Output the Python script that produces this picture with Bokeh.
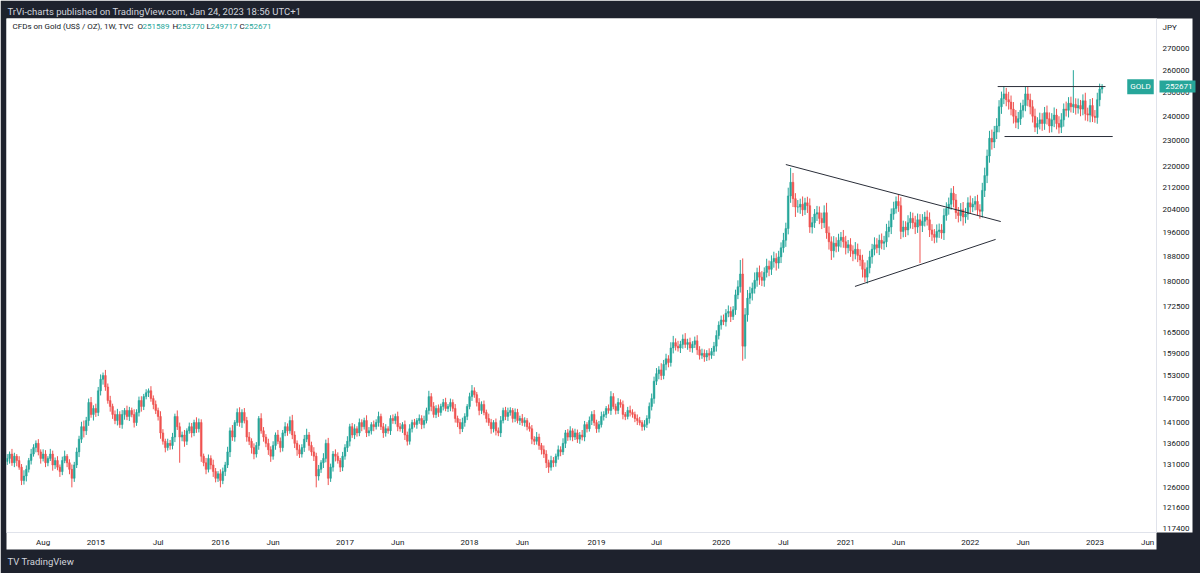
import numpy as np
import pandas as pd
from bokeh.plotting import figure
from bokeh.models import (Range1d, FixedTicker, NumeralTickFormatter, Label, ColumnDataSource,
                          Title, LogAxis)
from bokeh.embed import file_html
from bokeh.resources import INLINE

# ---------------- data (weekly, thousands of JPY) ----------------
start_date = "2014-04-21"
first_open_k = 131.8
close_k = [
    132.5, 133.5, 131.5, 133.0, 132.0, 130.5, 127.5, 128.5, 130.0, 132.0,
    133.5, 135.0, 136.0, 134.0, 132.5, 133.5, 131.5, 132.5, 133.5, 131.0,
    132.0, 130.5, 129.5, 132.0, 133.0, 131.5, 130.0, 128.0, 131.0, 134.0,
    137.0, 140.0, 139.0, 141.5, 146.0, 143.0, 144.5, 143.5, 149.0, 152.0,
    153.0, 150.0, 146.5, 145.0, 143.0, 141.5, 143.0, 140.5, 143.0, 144.0,
    142.5, 144.0, 143.0, 141.0, 143.5, 146.5, 145.0, 147.5, 148.5, 149.0,
    147.0, 145.5, 144.0, 142.5, 138.5, 136.5, 135.0, 136.0, 135.5, 137.5,
    142.5, 140.0, 137.5, 138.0, 136.5, 139.0, 140.0, 138.5, 141.0, 139.5,
    141.0, 133.0, 131.5, 130.0, 132.5, 131.0, 129.5, 128.0, 129.0, 127.5,
    129.5, 131.0, 134.0, 139.0, 137.5, 141.0, 143.5, 141.0, 143.5, 141.5,
    137.5, 136.5, 135.0, 133.5, 135.5, 142.0, 139.0, 137.5, 136.0, 134.5,
    133.0, 135.5, 138.0, 136.5, 135.0, 138.5, 140.0, 139.0, 141.5, 138.0,
    136.0, 134.5, 133.5, 135.0, 137.0, 138.0, 135.5, 134.0, 133.0, 128.5,
    130.0, 131.5, 132.5, 136.0, 128.0, 130.5, 133.5, 133.0, 132.0, 130.5,
    133.0, 135.0, 136.5, 140.0, 138.0, 139.5, 138.5, 141.0, 140.0, 141.5,
    138.5, 139.0, 140.5, 140.0, 141.0, 142.5, 140.0, 138.5, 139.5, 139.0,
    142.0, 141.5, 142.5, 140.0, 139.5, 140.5, 138.0, 136.5, 139.5, 141.0,
    140.5, 141.5, 142.0, 140.5, 141.5, 144.0, 147.5, 145.0, 143.0, 144.5,
    143.5, 145.0, 146.0, 144.5, 145.0, 146.0, 144.5, 142.0, 141.0, 139.5,
    141.0, 142.5, 145.0, 147.5, 149.0, 148.0, 146.0, 144.0, 145.5, 143.5,
    142.0, 141.0, 139.5, 141.0, 139.0, 138.5, 141.5, 144.0, 142.5, 143.5,
    144.0, 142.0, 143.5, 141.5, 142.0, 141.0, 141.5, 140.0, 139.5, 137.0,
    136.5, 137.5, 135.5, 134.5, 133.5, 131.5, 130.5, 132.0, 131.5, 133.0,
    134.5, 134.0, 136.0, 138.5, 137.5, 139.0, 137.5, 138.5, 137.0, 138.0,
    137.5, 140.5, 139.5, 141.5, 143.0, 141.0, 139.5, 140.5, 142.5, 143.0,
    144.5, 144.0, 147.5, 145.0, 144.0, 146.0, 145.5, 143.0, 142.5, 144.0,
    143.5, 143.0, 142.0, 141.5, 141.0, 140.0, 140.5, 142.0, 145.0, 147.0,
    151.5, 153.5, 154.5, 153.0, 156.0, 157.5, 156.5, 160.5, 162.0, 161.0,
    160.5, 161.5, 163.0, 161.5, 162.0, 160.5, 161.5, 162.5, 160.0, 158.5,
    159.0, 158.0, 159.0, 158.5, 159.5, 161.0, 164.0, 167.0, 168.5, 168.0,
    170.5, 171.0, 169.5, 171.5, 176.0, 178.5, 182.5, 161.0, 170.0, 175.0,
    176.5, 178.0, 180.5, 183.0, 181.5, 180.5, 183.0, 185.0, 184.0, 186.5,
    187.5, 186.0, 188.0, 191.0, 193.5, 197.5, 209.0, 214.0, 208.0, 205.0,
    205.0, 206.0, 204.0, 206.5, 205.5, 198.0, 199.5, 202.5, 203.0, 201.0,
    199.5, 203.0, 196.0, 193.0, 190.0, 192.5, 191.5, 193.5, 194.5, 193.0,
    191.0, 192.0, 190.0, 189.0, 190.5, 188.5, 187.0, 184.0, 181.5, 184.5,
    188.0, 190.5, 192.0, 191.0, 193.5, 192.5, 193.0, 196.5, 198.0, 202.5,
    204.5, 207.0, 205.5, 196.5, 198.0, 197.0, 199.5, 201.0, 199.5, 198.0,
    200.5, 198.5, 200.0, 201.5, 200.5, 197.0, 195.5, 194.5, 196.5, 197.0,
    196.0, 202.0, 204.5, 206.0, 210.0, 207.5, 203.0, 202.0, 204.0, 201.5,
    202.5, 206.5, 205.0, 206.0, 207.0, 204.0, 203.5, 211.0, 216.5, 224.0,
    231.0, 229.5, 233.5, 236.0, 244.0, 247.5, 249.5, 247.0, 246.0, 243.0,
    240.0, 237.5, 239.0, 242.5, 244.5, 249.5, 247.0, 244.0, 240.0, 235.5,
    237.0, 238.5, 237.0, 241.5, 239.0, 236.0, 238.5, 240.5, 237.0, 235.5,
    238.5, 243.0, 242.5, 245.5, 244.0, 245.0, 243.5, 244.5, 243.0, 246.5,
    241.0, 240.5, 244.5, 240.0, 239.5, 247.0, 251.589, 252.671,
]
wick_up_k = [
    1.0, 0.6, 1.2, 0.8, 0.5, 1.0, 0.7, 1.3, 0.9, 0.6,
    1.2, 0.8, 0.7, 1.0, 0.6, 1.1, 0.9, 0.5, 1.2, 0.8,
    0.7, 1.0, 0.6, 0.9, 1.3, 0.5, 0.8, 1.1, 0.7, 1.0,
    0.8, 1.2, 1.5, 0.9, 1.0, 1.4, 0.8, 1.2, 1.0, 1.3,
    0.8, 1.5, 0.9, 1.2, 0.7, 1.0, 1.4, 0.8, 1.1, 0.6,
    1.2, 0.9, 0.7, 1.3, 0.8, 1.0, 1.1, 0.7, 0.9, 0.6,
    1.2, 0.8, 1.0, 0.7, 1.3, 0.9, 0.6, 1.1, 0.8, 1.0,
    0.7, 1.5, 1.0, 0.8, 1.2, 0.6, 1.0, 0.9, 0.7, 1.3,
    1.0, 0.8, 0.6, 1.1, 0.9, 0.7, 1.2, 0.8, 0.6, 1.0,
    0.9, 0.7, 1.2, 0.8, 1.4, 0.6, 1.0, 1.3, 0.8, 1.1,
    0.9, 1.2, 0.7, 1.0, 0.8, 0.6, 1.3, 0.9, 0.7, 1.1,
    0.8, 1.0, 0.6, 1.2, 0.9, 0.7, 1.1, 0.8, 1.0, 1.4,
    0.9, 0.7, 1.2, 0.8, 1.0, 1.5, 0.7, 0.9, 1.1, 0.8,
    1.0, 0.6, 1.2, 0.9, 1.3, 0.8, 0.7, 1.1, 0.9, 0.6,
    1.0, 0.8, 1.2, 0.7, 0.9, 1.1, 0.6, 1.0, 0.8, 0.7,
    1.3, 0.9, 0.6, 1.0, 0.8, 1.2, 0.7, 0.9, 1.1, 0.6,
    0.8, 1.0, 0.7, 1.2, 0.9, 0.6, 1.0, 0.8, 1.1, 0.7,
    0.9, 0.6, 1.0, 0.8, 1.2, 0.7, 1.5, 0.9, 1.1, 0.8,
    1.0, 0.7, 0.9, 1.2, 0.6, 1.0, 0.8, 1.1, 0.7, 0.9,
    1.2, 0.8, 0.6, 1.0, 1.5, 0.9, 0.7, 1.1, 0.8, 1.0,
    0.7, 1.2, 0.9, 0.6, 1.0, 0.8, 1.1, 0.7, 0.9, 1.2,
    0.8, 0.6, 1.0, 0.9, 0.7, 1.1, 0.8, 0.6, 1.0, 0.9,
    0.7, 1.2, 0.8, 0.6, 1.0, 0.9, 0.7, 1.1, 0.8, 0.6,
    1.0, 0.8, 1.2, 0.7, 0.9, 1.1, 0.6, 1.0, 0.8, 0.7,
    1.2, 0.9, 0.6, 1.0, 0.8, 1.1, 0.7, 0.9, 1.2, 0.8,
    0.6, 1.0, 1.4, 0.9, 0.7, 1.1, 0.8, 1.0, 0.6, 0.9,
    1.2, 0.8, 0.7, 1.0, 0.9, 0.6, 1.1, 0.8, 1.0, 1.3,
    1.2, 1.5, 1.0, 1.8, 1.2, 1.4, 1.0, 1.6, 1.9, 1.2,
    1.5, 1.0, 1.3, 1.7, 1.1, 1.4, 0.9, 1.2, 1.6, 1.0,
    1.3, 1.1, 0.9, 1.4, 1.0, 1.2, 1.5, 1.1, 1.3, 1.6,
    1.2, 1.8, 1.4, 1.1, 1.6, 2.0, 4.5, 5.0, 2.0, 2.5,
    2.0, 1.8, 2.5, 1.5, 2.2, 1.9, 1.6, 2.4, 1.8, 2.0,
    2.2, 1.7, 2.0, 1.8, 2.5, 2.0, 3.0, 5.4, 3.5, 2.0,
    2.5, 2.0, 2.8, 1.8, 2.2, 2.6, 2.0, 1.8, 2.4, 2.2,
    2.0, 2.6, 3.5, 2.2, 1.8, 2.4, 2.0, 2.2, 1.8, 2.5,
    2.0, 1.6, 2.2, 1.8, 2.4, 1.9, 2.0, 1.7, 2.2, 2.4,
    2.0, 1.8, 2.5, 2.2, 1.9, 2.3, 2.0, 2.6, 2.2, 2.0,
    2.4, 1.8, 2.5, 3.0, 2.2, 2.0, 2.6, 2.3, 2.0, 2.4,
    2.2, 2.0, 2.5, 1.8, 2.3, 2.6, 2.0, 1.8, 2.4, 2.2,
    2.0, 2.5, 2.2, 2.4, 1.8, 2.6, 2.2, 2.0, 2.4, 2.8,
    2.2, 2.0, 2.6, 2.2, 1.9, 2.4, 2.0, 2.8, 3.0, 2.5,
    3.0, 3.5, 2.5, 3.2, 2.8, 3.0, 3.2, 2.6, 3.4, 2.8,
    3.0, 2.6, 2.8, 3.2, 2.5, 3.2, 3.0, 2.6, 2.8, 3.2,
    2.6, 3.0, 2.8, 2.4, 3.0, 2.6, 2.8, 3.2, 2.6, 3.0,
    2.8, 2.4, 3.2, 2.6, 2.8, 15.0, 2.6, 3.0, 2.4, 2.8,
    3.5, 2.6, 2.8, 3.2, 2.6, 3.0, 2.4, 1.1,
]
wick_dn_k = [
    0.8, 1.2, 0.7, 1.0, 1.3, 0.6, 1.0, 0.9, 1.2, 0.7,
    0.9, 0.6, 1.1, 0.8, 1.2, 0.7, 1.0, 0.8, 0.6, 1.3,
    0.9, 0.7, 1.2, 0.8, 0.6, 1.0, 1.1, 2.0, 0.8, 0.7,
    1.2, 0.9, 1.6, 1.0, 1.3, 0.8, 1.5, 1.1, 0.9, 1.2,
    1.4, 1.0, 0.8, 1.3, 1.1, 0.9, 1.2, 0.8, 1.0, 1.3,
    0.9, 1.1, 0.7, 1.2, 0.8, 1.0, 1.3, 0.9, 0.7, 1.1,
    0.8, 1.2, 0.9, 1.0, 1.4, 0.8, 1.1, 0.7, 1.0, 0.9,
    1.2, 0.8, 6.0, 1.0, 1.3, 0.9, 0.7, 1.1, 0.8, 1.0,
    0.9, 1.3, 0.8, 1.1, 0.7, 1.0, 1.2, 0.9, 0.8, 1.5,
    0.8, 1.0, 0.7, 1.2, 0.9, 1.1, 0.8, 1.0, 1.3, 0.7,
    1.1, 0.9, 1.4, 1.2, 0.8, 1.0, 0.7, 1.1, 0.9, 1.2,
    1.3, 0.8, 1.0, 0.7, 1.1, 0.9, 0.8, 1.2, 0.7, 1.0,
    1.1, 1.4, 0.9, 0.8, 1.0, 0.7, 1.2, 0.9, 1.1, 2.5,
    1.0, 0.8, 1.2, 0.9, 1.5, 0.8, 1.0, 1.2, 0.7, 1.1,
    0.9, 0.8, 1.0, 1.2, 0.7, 1.0, 0.9, 0.8, 1.1, 0.7,
    1.0, 0.8, 0.9, 1.1, 0.7, 1.0, 0.8, 1.2, 0.9, 0.7,
    1.0, 0.8, 0.9, 1.1, 0.7, 1.0, 1.2, 1.0, 0.8, 0.9,
    0.7, 1.0, 0.8, 1.1, 0.9, 0.7, 1.0, 1.2, 0.8, 0.9,
    1.1, 0.8, 1.0, 0.7, 0.9, 1.2, 0.8, 1.0, 1.1, 1.3,
    0.8, 1.0, 0.9, 0.7, 1.1, 0.8, 1.0, 1.2, 0.9, 0.7,
    1.0, 0.8, 1.2, 0.9, 1.1, 0.8, 1.0, 0.7, 0.9, 1.1,
    0.8, 1.0, 0.9, 0.7, 1.1, 0.8, 1.0, 0.9, 0.7, 1.2,
    0.9, 0.8, 1.0, 1.1, 0.9, 1.2, 1.3, 0.8, 1.0, 0.9,
    0.8, 1.0, 0.7, 1.1, 0.9, 0.8, 1.0, 0.7, 0.9, 1.1,
    0.8, 1.0, 0.9, 0.7, 1.1, 0.8, 1.0, 0.9, 0.7, 1.0,
    0.9, 0.8, 1.1, 0.7, 1.0, 0.9, 0.8, 1.2, 0.9, 0.7,
    1.0, 0.8, 0.9, 1.1, 0.7, 1.0, 0.9, 0.8, 1.2, 1.0,
    1.3, 1.0, 1.5, 1.2, 1.0, 1.6, 1.3, 1.1, 1.5, 1.2,
    1.0, 1.4, 1.2, 1.0, 1.5, 1.1, 1.3, 1.0, 1.4, 1.2,
    1.0, 1.3, 1.1, 1.4, 1.0, 1.2, 1.5, 1.1, 1.3, 1.0,
    1.4, 1.2, 1.6, 1.0, 1.5, 1.3, 1.8, 4.0, 3.5, 2.0,
    1.8, 2.2, 1.6, 2.0, 2.4, 1.8, 2.0, 1.6, 2.2, 1.8,
    2.0, 2.4, 1.8, 2.0, 1.6, 2.2, 2.0, 2.5, 3.0, 3.5,
    2.0, 2.4, 2.2, 1.8, 2.6, 2.0, 2.2, 1.8, 2.4, 2.0,
    2.2, 1.8, 2.0, 2.6, 3.0, 2.2, 2.0, 1.8, 2.4, 2.0,
    2.2, 1.8, 2.0, 2.4, 1.8, 2.2, 2.0, 2.6, 1.5, 2.0,
    1.8, 2.2, 2.0, 1.8, 2.4, 2.0, 2.2, 1.8, 2.0, 2.4,
    2.0, 1.8, 2.2, 2.6, 2.0, 2.4, 1.8, 2.0, 2.2, 2.4,
    2.0, 12.5, 2.2, 1.8, 2.0, 2.4, 2.2, 2.0, 1.8, 2.2,
    2.0, 2.4, 1.8, 2.2, 2.0, 2.6, 2.2, 2.4, 2.0, 3.0,
    2.2, 2.0, 2.4, 1.8, 2.2, 2.0, 2.6, 2.2, 2.4, 2.8,
    2.6, 3.0, 2.4, 2.8, 2.6, 3.0, 2.4, 2.8, 3.2, 2.6,
    3.0, 2.4, 2.8, 2.6, 3.0, 2.4, 2.8, 3.2, 2.6, 2.0,
    2.8, 2.4, 3.0, 2.6, 2.4, 2.8, 2.6, 3.0, 2.4, 2.6,
    2.4, 2.8, 2.6, 3.0, 2.4, 2.6, 2.8, 2.4, 3.0, 2.6,
    2.8, 2.6, 3.0, 2.4, 2.2, 2.6, 2.8, 1.87,
]

y_ticks = [117400, 121600, 126000, 131000, 136000, 141000, 147000, 153000, 159000,
           165000, 172500, 180000, 188000, 196000, 204000, 212000, 220000, 230000,
           240000, 250000, 260000, 270000]
currency_tick = 280000          # where the scale's "JPY" caption sits
currency = "JPY"
x_tick_months = ["2014-08", "2015-01", "2015-07", "2016-01", "2016-06", "2017-01",
                 "2017-06", "2018-01", "2018-06", "2019-01", "2019-07", "2020-01",
                 "2020-07", "2021-01", "2021-06", "2022-01", "2022-06", "2023-01", "2023-06"]
x_tick_labels = ["Aug", "2015", "Jul", "2016", "Jun", "2017", "Jun", "2018", "Jun", "2019",
                 "Jul", "2020", "Jul", "2021", "Jun", "2022", "Jun", "2023", "Jun"]

# drawn trend lines (start date, start price, end date, end price)
tl_x0 = ["2020-07-13", "2021-01-31", "2022-03-24", "2022-04-13"]
tl_y0 = [220700, 178600, 252700, 231700]
tl_x1 = ["2022-04-02", "2022-03-18", "2023-02-02", "2023-02-23"]
tl_y1 = [199900, 193800, 252700, 231700]

top_bar_text = "TrVi-charts published on TradingView.com, Jan 24, 2023 18:56 UTC+1"
footer_text = "TV TradingView"
header_title = "CFDs on Gold (US$ / OZ), 1W, TVC"
ohlc_letters = ["O", "H", "L", "C"]
ohlc_values = ["251589", "253770", "249717", "252671"]
symbol = "GOLD"

# ---------------- styling ----------------
DARK = "#1e222d"
UP = "#26a69a"
DN = "#ef5350"
TXT = "#131722"
SEP = "#e0e3eb"
LIGHT = "#d1d4dc"
FONT = "Roboto"

dates = pd.date_range(start_date, periods=len(close_k), freq="7D")
c = np.array(close_k) * 1000.0
o = np.concatenate([[first_open_k * 1000.0], c[:-1]])
h = np.maximum(o, c) + np.array(wick_up_k) * 1000.0
l = np.minimum(o, c) - np.array(wick_dn_k) * 1000.0
col = np.where(c >= o, UP, DN)
src = ColumnDataSource(dict(x=dates, h=h, l=l, top=np.maximum(o, c), bot=np.minimum(o, c), col=col))

p = figure(width=1200, height=573, x_axis_type="datetime", y_axis_type="log",
           y_axis_location="right", output_backend="svg", toolbar_location=None,
           x_range=Range1d(pd.Timestamp("2014-04-19"), pd.Timestamp("2023-07-01")),
           y_range=Range1d(116500, 284400),
           min_border_left=6, min_border_right=44, min_border_top=18, min_border_bottom=41,
           border_fill_color=DARK, background_fill_color="white", outline_line_color=None)
p.grid.visible = False

# top dark bar text
p.title.text = top_bar_text
p.title.text_color = LIGHT
p.title.text_font = FONT
p.title.text_font_size = "9.5px"
p.title.text_font_style = "normal"
p.title.align = "left"
p.title.offset = 1
p.title.standoff = 3

p.segment(x0="x", y0="l", x1="x", y1="h", source=src, line_color="col", line_width=1)
p.vbar(x="x", width=5 * 86400000, top="top", bottom="bot", source=src,
       fill_color="col", line_color="col", line_width=0.5)

p.segment(x0=pd.to_datetime(tl_x0), y0=tl_y0, x1=pd.to_datetime(tl_x1), y1=tl_y1,
          line_color="#2a2e39", line_width=1)

# x axis ticks at first weekly bar of each labelled month
tick_ms = []
overrides = {}
for m, lab_ in zip(x_tick_months, x_tick_labels):
    t = pd.Timestamp(m + "-01")
    t = t + pd.Timedelta(days=(7 - t.weekday()) % 7)
    ms = float(t.value // 10**6)
    tick_ms.append(ms)
    overrides[ms] = lab_

xa = p.xaxis[0]
xa.ticker = FixedTicker(ticks=tick_ms)
xa.major_label_overrides = overrides
ya = p.yaxis[0]
ya.ticker = FixedTicker(ticks=y_ticks + [currency_tick])
ya.formatter = NumeralTickFormatter(format="0")
ya.major_label_overrides = {float(currency_tick): currency}
for ax in (xa, ya):
    ax.major_tick_line_color = None
    ax.major_tick_out = 0
    ax.major_tick_in = 0
    ax.minor_tick_line_color = None
    ax.axis_line_color = SEP
    ax.major_label_text_font = FONT
    ax.major_label_text_font_size = "8px"
    ax.major_label_text_color = TXT
    ax.background_fill_color = "white"
xa.major_label_standoff = 5
ya.major_label_standoff = 6

# last-price tag on the price scale: an outer axis with a single, thick teal tick
tag_axis = LogAxis(ticker=FixedTicker(ticks=[float(c[-1])]),
                   formatter=NumeralTickFormatter(format="0"),
                   axis_line_color=None, minor_tick_line_color=None,
                   major_tick_line_color=UP, major_tick_line_width=12,
                   major_tick_in=33, major_tick_out=3, major_label_standoff=-30,
                   major_label_text_color="white", major_label_text_font=FONT,
                   major_label_text_font_size="8px")
p.add_layout(tag_axis, "right")

# footer
foot = Title(text=footer_text, align="left", offset=1, standoff=8, text_color=LIGHT,
             text_font=FONT, text_font_size="9.5px", text_font_style="normal")
p.add_layout(foot, "below")

def lab(x, y, text, color, size="8px"):
    p.add_layout(Label(x=x, y=y, x_units="screen", y_units="screen", text=text,
                       text_color=color, text_font=FONT, text_font_size=size,
                       text_baseline="middle"))

# header inside the pane
lab(6, 506, header_title, TXT, "8px")
for lx, vx, L, V in zip([131, 136, 166, 200, 233][1:], [141, 171, 204, 238], ohlc_letters, ohlc_values):
    lab(lx - 5 if L == "O" else lx, 506, L, TXT, "8px")
    lab(vx if L != "O" else 136, 506, V, UP, "8px")

# symbol tag at the right edge of the pane
p.add_layout(Label(x=1134, y=c[-1], x_units="screen", y_units="data", text=symbol,
                   text_align="center", text_baseline="middle", text_color="white",
                   text_font=FONT, text_font_size="8px", background_fill_color=UP,
                   padding=3))

open("out.html", "w").write(file_html(p, INLINE))
